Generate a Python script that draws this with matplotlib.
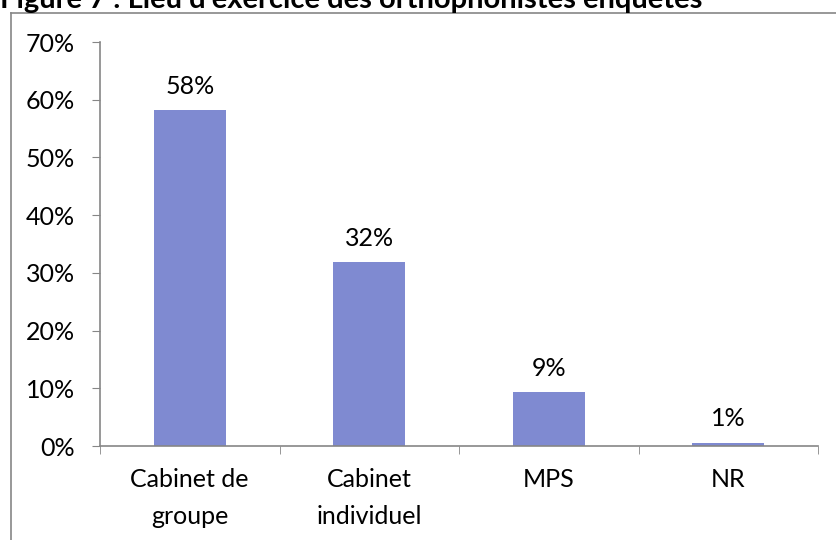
import matplotlib.pyplot as plt
from matplotlib.lines import Line2D
from matplotlib.ticker import PercentFormatter, FixedLocator
import numpy as np

categories = ["Cabinet de\ngroupe", "Cabinet\nindividuel", "MPS", "NR"]
shares = [0.582, 0.318, 0.093, 0.006]
title = "Figure 7 : Lieu d'exercice des orthophonistes enquêtés"

plt.rcParams['font.family'] = ['Lato', 'DejaVu Sans']
grey = '#868686'
bar_color = '#7F8AD1'
fs = 18

fig = plt.figure(figsize=(8.36, 5.4), dpi=100)
ax = fig.add_axes([100 / 836, 1 - 446 / 540, 718 / 836, 404 / 540])

x = np.arange(len(categories))
bars = ax.bar(x, shares, width=0.4, color=bar_color)

for b, v in zip(bars, shares):
    ax.annotate(f"{v:.0%}", (b.get_x() + b.get_width() / 2, v),
                xytext=(0, 9), textcoords='offset points',
                ha='center', va='bottom', fontsize=fs)

ax.set_xlim(-0.5, len(categories) - 0.5)
ax.set_ylim(0, 0.7)
ax.set_yticks(np.arange(0, 0.71, 0.1))
ax.yaxis.set_major_formatter(PercentFormatter(1.0, decimals=0))

ax.set_xticks(x)
ax.set_xticklabels(categories, linespacing=1.7)
ax.xaxis.set_minor_locator(FixedLocator(np.arange(-0.5, len(categories), 1)))
ax.tick_params(axis='x', which='major', length=0, pad=16, labelsize=fs)
ax.tick_params(axis='x', which='minor', length=6, color=grey, direction='out')
ax.tick_params(axis='y', length=6, color=grey, direction='out', pad=12, labelsize=fs)

for s in ('top', 'right'):
    ax.spines[s].set_visible(False)
for s in ('left', 'bottom'):
    ax.spines[s].set_color(grey)
    ax.spines[s].set_linewidth(1.2)

# chart frame, only its left and top edges fall inside the image
fx, fy = 10.5 / 836, 1 - 13 / 540
fig.add_artist(Line2D([fx, fx], [0, fy], transform=fig.transFigure, color=grey, lw=1.2))
fig.add_artist(Line2D([fx, 1], [fy, fy], transform=fig.transFigure, color=grey, lw=1.2))

fig.text(0, 1 - 8 / 540, title, fontsize=21, fontweight='bold', ha='left', va='baseline')

fig.savefig('out.png', dpi=100)
